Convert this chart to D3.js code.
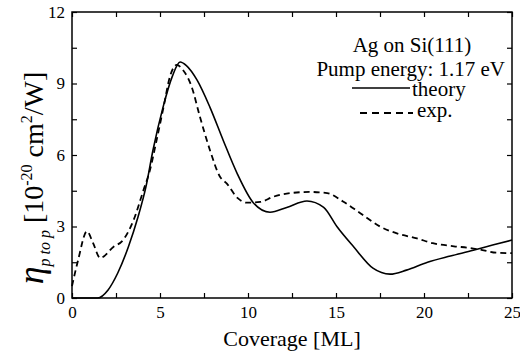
<!DOCTYPE html>
<html>
<head>
<meta charset="utf-8">
<script src="https://cdn.jsdelivr.net/npm/d3@7"></script>
</head>
<body style="margin:0">
<svg id="fig" width="520" height="352"></svg>
<script>
// theory curve [coverage ML, eta]
const theoryX = [0, 1.45, 2.05, 2.6, 3.2, 3.75, 4.2, 4.6, 5.17, 5.7, 6.14, 6.5, 7.1, 7.84, 8.6, 9.4, 10.3, 11.25, 12.2, 13.35, 14.3, 15.05, 16.0, 17.1, 18.07, 19.0, 20.2, 21.5, 22.8, 23.9, 25];
const theoryY = [0, 0, 0.34, 1.05, 2.14, 3.4, 4.66, 6.2, 8.0, 9.3, 9.9, 9.75, 9.15, 8.0, 6.6, 5.2, 4.0, 3.6, 3.8, 4.07, 3.8, 3.0, 2.15, 1.25, 1.0, 1.17, 1.5, 1.76, 2.0, 2.22, 2.43];

// experiment curve
const expX = [0, 0.35, 0.85, 1.2, 1.6, 2.35, 2.9, 3.5, 4.05, 4.43, 4.8, 5.2, 5.57, 5.95, 6.3, 6.8, 7.27, 7.84, 8.4, 8.8, 9.4, 9.9, 10.7, 11.4, 12.4, 13.5, 14.5, 15.4, 16.4, 17.5, 18.5, 19.6, 20.5, 21.7, 22.6, 23.4, 24.1, 25];
const expY = [0.5, 1.6, 2.8, 2.3, 1.68, 2.14, 2.43, 3.27, 4.5, 5.37, 6.6, 8.0, 9.3, 9.78, 9.57, 8.86, 7.6, 6.2, 5.1, 4.8, 4.2, 4.0, 4.03, 4.24, 4.4, 4.45, 4.4, 4.05, 3.55, 3.0, 2.7, 2.5, 2.3, 2.17, 2.1, 2.0, 1.9, 1.88];

const xTicks = [0, 5, 10, 15, 20, 25];
const yTicks = [0, 3, 6, 9, 12];
const legendLines = ["Ag on Si(111)", "Pump energy: 1.17 eV"];
const seriesNames = ["theory", "exp."];

const font = 'Liberation Serif';
const width = 520, height = 352;
const margin = { top: 12, right: 8, bottom: 54, left: 72 };

const svg = d3.select('#fig');

const w = width - margin.left - margin.right;
const h = height - margin.top - margin.bottom;

const chart = svg.append('g')
    .attr('transform', `translate(${margin.left},${margin.top})`);

const xScale = d3.scaleLinear().domain([0, 25]).range([0, w]);
const yScale = d3.scaleLinear().domain([0, 12]).range([h, 0]);

// minor ticks every 2.5 / 1.5, labels only on the major ones
const xMinor = d3.range(0, 25.01, 2.5);
const yMinor = d3.range(0, 12.01, 1.5);

const fmtX = d => xTicks.includes(d) ? d : '';
const fmtY = d => yTicks.includes(d) ? d : '';

chart.append('g')
    .attr('transform', `translate(0,${h})`)
    .call(d3.axisBottom(xScale).tickValues(xMinor).tickSize(-5).tickPadding(8).tickFormat(fmtX))
    .call(g => g.select('.domain').remove());
chart.append('g')
    .call(d3.axisTop(xScale).tickValues(xMinor).tickSize(-5).tickFormat(''))
    .call(g => g.select('.domain').remove());
chart.append('g')
    .call(d3.axisLeft(yScale).tickValues(yMinor).tickSize(-5).tickPadding(7).tickFormat(fmtY))
    .call(g => g.select('.domain').remove());
chart.append('g')
    .attr('transform', `translate(${w},0)`)
    .call(d3.axisRight(yScale).tickValues(yMinor).tickSize(-5).tickFormat(''))
    .call(g => g.select('.domain').remove());

chart.selectAll('.tick line').attr('stroke', '#000').attr('stroke-width', 1.2);
chart.selectAll('.tick text').attr('fill', '#000').attr('font-size', 17);

chart.append('rect')
    .attr('width', w).attr('height', h)
    .attr('fill', 'none').attr('stroke', '#000').attr('stroke-width', 1.5);

const line = d3.line()
    .x(d => xScale(d[0]))
    .y(d => yScale(d[1]))
    .curve(d3.curveMonotoneX);

chart.append('path')
    .datum(theoryX.map((x, i) => [x, theoryY[i]]))
    .attr('d', line)
    .attr('fill', 'none').attr('stroke', '#000').attr('stroke-width', 1.6);

chart.append('path')
    .datum(expX.map((x, i) => [x, expY[i]]))
    .attr('d', line)
    .attr('fill', 'none').attr('stroke', '#000').attr('stroke-width', 1.8)
    .attr('stroke-dasharray', '6,4');

// legend
svg.append('text').attr('x', 412).attr('y', 52).attr('text-anchor', 'middle')
    .attr('font-size', 21).text(legendLines[0]);
svg.append('text').attr('x', 505).attr('y', 76).attr('text-anchor', 'end')
    .attr('font-size', 21).text(legendLines[1]);
svg.append('line').attr('x1', 352).attr('x2', 410).attr('y1', 88).attr('y2', 88)
    .attr('stroke', '#000').attr('stroke-width', 1.6);
svg.append('text').attr('x', 412).attr('y', 96).attr('font-size', 21).text(seriesNames[0]);
svg.append('line').attr('x1', 360).attr('x2', 413).attr('y1', 113).attr('y2', 113)
    .attr('stroke', '#000').attr('stroke-width', 1.8).attr('stroke-dasharray', '7,5');
svg.append('text').attr('x', 417).attr('y', 117).attr('font-size', 21).text(seriesNames[1]);

// axis titles
svg.append('text').attr('x', 292).attr('y', 346).attr('text-anchor', 'middle')
    .attr('font-size', 22).text('Coverage [ML]');

const yLab = svg.append('text')
    .attr('transform', 'translate(43,178) rotate(-90)')
    .attr('text-anchor', 'middle')
    .attr('font-size', 28);
yLab.append('tspan').attr('font-style', 'italic').attr('font-size', 36).text('η');
yLab.append('tspan').attr('font-style', 'italic').attr('font-size', 16).attr('dy', 7).text('p to p');
yLab.append('tspan').attr('dy', -7).text(' [10');
yLab.append('tspan').attr('font-size', 16).attr('dy', -11).text('-20');
yLab.append('tspan').attr('dy', 11).text(' cm');
yLab.append('tspan').attr('font-size', 16).attr('dy', -11).text('2');
yLab.append('tspan').attr('dy', 11).text('/W]');

// serif on every text node, including the axis labels
svg.selectAll('g').attr('font-family', font);
svg.selectAll('text, tspan').attr('font-family', font).style('font-family', font);
</script>
</body>
</html>
